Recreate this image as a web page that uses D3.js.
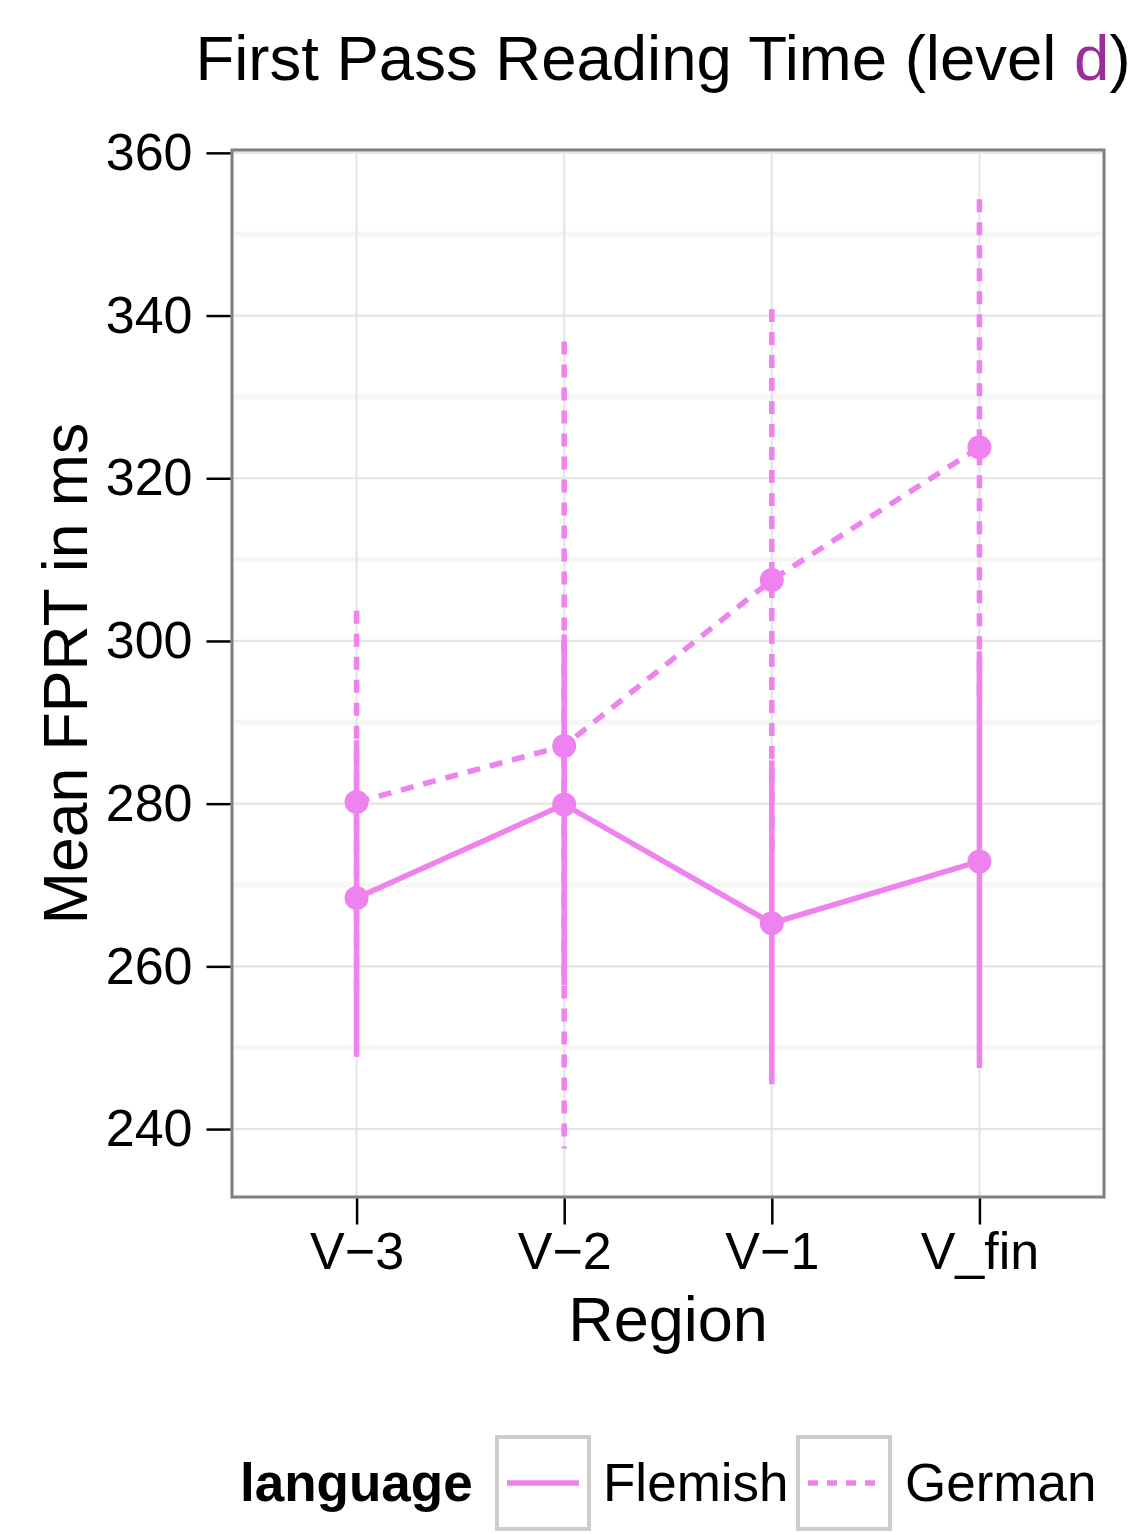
<!DOCTYPE html>
<html><head><meta charset="utf-8">
<script src="https://cdn.jsdelivr.net/npm/d3@7"></script>
<style>body{margin:0;background:#fff}svg{display:block;font-family:"Liberation Sans",Arial,Helvetica,sans-serif}</style>
</head><body>
<svg id="c" width="1138" height="1535"></svg>
<script>
const regions = ["V\u22123","V\u22122","V\u22121","V_fin"];
const languages = ["Flemish","German"];
const flemishMean = [268.4, 279.9, 265.3, 272.9];
const flemishLow  = [248.9, 257.7, 245.5, 247.5];
const flemishHigh = [287.8, 300.8, 285.3, 298.7];
const germanMean  = [280.2, 287.1, 307.5, 323.8];
const germanLow   = [256.7, 237.6, 274.2, 293.3];
const germanHigh  = [303.7, 336.8, 340.8, 354.3];
const yTicks = [240, 260, 280, 300, 320, 340, 360];
const yMinor = [250, 270, 290, 310, 330, 350];

const color = "#EE82EE";
const svg = d3.select("#c");
const L = 232, R = 1104, T = 150, B = 1197;

const x = d3.scalePoint().domain(regions).range([L, R]).padding(0.6);
const y = d3.scaleLinear().domain([231.65, 360.35]).range([B, T]);

const series = [
  {name:"Flemish", dash:null, vals: regions.map((r,i)=>({r, m:flemishMean[i], lo:flemishLow[i], hi:flemishHigh[i]}))},
  {name:"German", dash:"13,10", vals: regions.map((r,i)=>({r, m:germanMean[i], lo:germanLow[i], hi:germanHigh[i]}))}
];

svg.append("rect").attr("x",L).attr("y",T).attr("width",R-L).attr("height",B-T).attr("fill","#fff");
svg.append("g").selectAll("line").data(yMinor).join("line")
  .attr("x1",L).attr("x2",R).attr("y1",d=>y(d)).attr("y2",d=>y(d))
  .attr("stroke","#f6f6f6").attr("stroke-width",5);
svg.append("g").selectAll("line").data(yTicks).join("line")
  .attr("x1",L).attr("x2",R).attr("y1",d=>y(d)).attr("y2",d=>y(d))
  .attr("stroke","#e5e5e5").attr("stroke-width",2.2);
svg.append("g").selectAll("line").data(regions).join("line")
  .attr("x1",d=>x(d)).attr("x2",d=>x(d)).attr("y1",T).attr("y2",B)
  .attr("stroke","#e5e5e5").attr("stroke-width",2.2);

const gData = svg.append("g");
series.forEach(s=>{
  gData.append("g").selectAll("line").data(s.vals).join("line")
    .attr("x1",d=>x(d.r)).attr("x2",d=>x(d.r))
    .attr("y1",d=>y(d.hi)).attr("y2",d=>y(d.lo))
    .attr("stroke",color).attr("stroke-width",5.5)
    .attr("stroke-dasharray",s.dash);
});
series.forEach(s=>{
  gData.append("path").datum(s.vals)
    .attr("d",d3.line().x(d=>x(d.r)).y(d=>y(d.m)))
    .attr("fill","none").attr("stroke",color).attr("stroke-width",5.5)
    .attr("stroke-dasharray",s.dash);
  gData.append("g").selectAll("circle").data(s.vals).join("circle")
    .attr("cx",d=>x(d.r)).attr("cy",d=>y(d.m)).attr("r",12).attr("fill",color);
});

svg.append("rect").attr("x",L).attr("y",T).attr("width",R-L).attr("height",B-T)
  .attr("fill","none").attr("stroke","#7f7f7f").attr("stroke-width",3);

const yAxis = d3.axisLeft(y).tickValues(yTicks).tickSize(24).tickPadding(14);
const gy = svg.append("g").attr("transform",`translate(${L-1.5},0)`).call(yAxis);
gy.select(".domain").remove();
gy.selectAll(".tick line").attr("stroke","#000").attr("stroke-width",2.5);
gy.selectAll(".tick text").attr("font-size",52).attr("fill","#000")
  .attr("font-family","Liberation Sans, Arial, sans-serif");

const xAxis = d3.axisBottom(x).tickSize(26).tickPadding(8);
const gx = svg.append("g").attr("transform",`translate(0,${B+1.5})`).call(xAxis);
gx.select(".domain").remove();
gx.selectAll(".tick line").attr("stroke","#000").attr("stroke-width",2.5);
gx.selectAll(".tick text").attr("font-size",52).attr("fill","#000")
  .attr("font-family","Liberation Sans, Arial, sans-serif");

const title = svg.append("text").attr("x",663).attr("y",80).attr("text-anchor","middle")
  .attr("font-size",63.5).attr("fill","#000");
title.append("tspan").text("First Pass Reading Time (level ");
title.append("tspan").attr("fill","#9B2D9B").text("d");
title.append("tspan").text(")");

svg.append("text").attr("x",(L+R)/2).attr("y",1341).attr("text-anchor","middle")
  .attr("font-size",63).attr("fill","#000").text("Region");
svg.append("text").attr("transform",`translate(87,${(T+B)/2}) rotate(-90)`).attr("text-anchor","middle")
  .attr("font-size",62.5).attr("fill","#000").text("Mean FPRT in ms");

const lg = svg.append("g");
lg.append("text").attr("x",240).attr("y",1501).attr("font-size",53).attr("font-weight","bold")
  .attr("fill","#000").text("language");
const keyX = [497, 798];
const labX = [603, 905];
series.forEach((s,i)=>{
  lg.append("rect").attr("x",keyX[i]).attr("y",1437).attr("width",92).attr("height",92)
    .attr("fill","#fff").attr("stroke","#cccccc").attr("stroke-width",4);
  lg.append("line").attr("x1",keyX[i]+10).attr("x2",keyX[i]+82).attr("y1",1483).attr("y2",1483)
    .attr("stroke",color).attr("stroke-width",5.5).attr("stroke-dasharray",s.dash ? "10,9" : null);
  lg.append("text").attr("x",labX[i]).attr("y",1501).attr("font-size",53).attr("fill","#000").text(s.name);
});
</script>
</body></html>
